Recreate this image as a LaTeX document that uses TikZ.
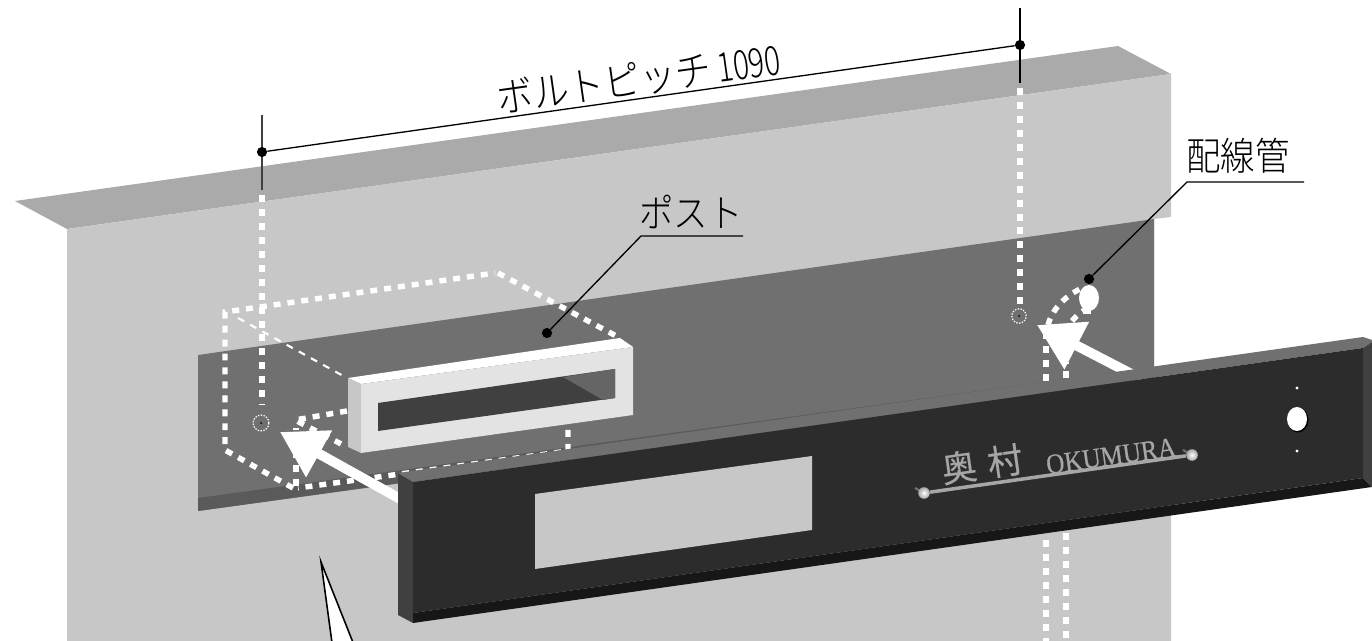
\documentclass[tikz,border=0pt]{standalone}
\usepackage{fontspec}
\setmainfont[FakeStretch=0.89]{Noto Sans CJK JP Light}
\newfontfamily\digitfont[FakeStretch=0.74]{Noto Sans CJK JP Light}
\newfontfamily\platefont[FakeBold=0.4]{Noto Sans CJK JP}
\newfontfamily\romanfont[FakeBold=0.5,FakeStretch=0.9]{Liberation Serif}
\usetikzlibrary{arrows.meta,shapes.geometric}

\definecolor{roofgray}{HTML}{AAAAAA}
\definecolor{wallgray}{HTML}{C7C7C7}
\definecolor{recessgray}{HTML}{707070}
\definecolor{recessband}{HTML}{5A5A5A}
\definecolor{platefront}{HTML}{2C2C2C}
\definecolor{plateband}{HTML}{171717}
\definecolor{plateside}{HTML}{404040}
\definecolor{nameplate}{HTML}{A6A6A6}

\tikzset{
  dotline/.style={white, line width=3.1pt, dash pattern=on 3.97pt off 3.97pt},
  thinline/.style={white, line width=1.2pt, dash pattern=on 4pt off 3.9pt},
  moveline/.style={white, line width=5.6pt, -{Triangle[length=25.5pt, width=29pt]}},
  leader/.style={black, line width=0.75pt},
  leaderdot/.style={circle, fill=black, inner sep=0pt, minimum size=5.8pt},
  boltmark/.style={circle, draw=white, line width=0.7pt, dash pattern=on 0.8pt off 0.8pt, inner sep=0pt, minimum size=8.2pt},
  calllabel/.style={font=\fontsize{22pt}{22pt}\selectfont, inner sep=0pt},
  knob/.style={circle, inner sep=0pt, minimum size=6.6pt, inner color=white, outer color=nameplate},
}

\begin{document}
\begin{tikzpicture}[x=0.02cm, y=-0.02cm]
      \useasboundingbox (0,0) rectangle (1372,641);
      \fill[white] (0,0) rectangle (1372,641);
      \fill[roofgray] (15,201) -- (1118,46) -- (1171,74) -- (67,229) -- cycle;
      \fill[wallgray] (67,229) -- (1171,74) -- (1171,217) -- (1154,219) -- (1154,420) -- (1171,420) -- (1171,641) -- (67,641) -- cycle;
      \fill[recessgray] (198,355) -- (1154,219) -- (1154,380) -- (198,511) -- cycle;
      \fill[recessband] (198,498) -- (1154,367) -- (1154,378) -- (198,511) -- cycle;

      \draw[dotline] (262,195) -- (262,405);
      \draw[dotline] (1020,88) -- (1020,305);
      \draw[dotline] (1046,381) -- (1046,332);
      \draw[dotline] (1066,378) -- (1066,362);
      \draw[dotline] (1046,540) -- (1046,641);
      \draw[dotline] (1066,533) -- (1066,641);
      \draw[dotline] (1048,325) .. controls (1052,310) and (1064,297) .. (1080,289);
      \draw[dotline] (1072,321) .. controls (1076,316) and (1080,313) .. (1086,309);
      \draw[dotline] (568,430) -- (568,451) -- (298,488);
      \draw[dotline] (293,488) -- (225,450) -- (225,312) -- (495,273);
      \draw[dotline] (498,273) -- (620,338);
      \draw[dotline] (296,486) -- (296,428);
      \draw[dotline] (347,411) -- (295,420) -- (347,447);
      \draw[thinline] (238,318) -- (347,378);

      \fill[white] (348,378) -- (620,338) -- (633,347) -- (361,384) -- cycle;
      \fill[wallgray] (348,378) -- (361,384) -- (361,453) -- (348,447) -- cycle;
      \fill[white!89!black] (361,384) -- (633,347) -- (633,415) -- (361,453) -- cycle;
      \fill[plateside] (378,403) -- (615,369) -- (615,398) -- (378,431) -- cycle;
      \fill[recessgray!90!black] (563,377) -- (615,369) -- (615,398) -- (603,400) -- cycle;

      \node[boltmark, minimum size=9pt] (boltL) at (261,423) {};
      \node[boltmark] (boltR) at (1019,316) {};
      \fill[black] (boltL) circle [radius=1];
      \fill[black] (boltR) circle [radius=1];

      \fill[white] (1089,298) ellipse [x radius=10, y radius=13];
      \fill[white] (1083,308) rectangle (1091,314);

      \coordinate (moveLs) at (420,510);
      \coordinate (moveLe) at (280,432);
      \coordinate (moveRs) at (1145,381);
      \coordinate (moveRe) at (1037,325);
      \draw[moveline] (moveLs) -- (moveLe);
      \draw[moveline] (moveRs) -- (moveRe);

      \fill[plateside] (398,473) -- (413,482) -- (413,623) -- (398,615) -- cycle;
      \fill[recessgray] (398,473) -- (1363,337) -- (1372,340) -- (1372,342) -- (1363,348) -- (413,482) -- cycle;
      \fill[platefront] (413,482) -- (1363,348) -- (1363,478) -- (413,613) -- cycle;
      \fill[plateband] (413,613) -- (1363,478) -- (1372,487) -- (413,623) -- cycle;
      \fill[plateside] (1363,348) -- (1372,342) -- (1372,487) -- (1363,478) -- cycle;
      \fill[wallgray] (535,494) -- (812,456) -- (812,530) -- (535,569) -- cycle;

      \fill[black] (1298,420) ellipse [x radius=10.5, y radius=12.5];
      \fill[white] (1297,419) ellipse [x radius=10, y radius=12];
      \fill[white] (1297,388) circle [radius=1.6];
      \fill[white] (1297,451) circle [radius=1.6];

      \draw[recessgray, line width=1.2pt] (915,488) -- (922,492);
      \draw[recessgray, line width=1.2pt] (1183,450) -- (1190,454);
      \node[knob] (knobL) at (924,493) {};
      \node[knob] (knobR) at (1192,455) {};
      \draw[nameplate, line width=2pt] (knobL) -- (knobR);
      \node[rotate=8, nameplate, inner sep=0pt, font=\platefont\fontsize{20pt}{20pt}\selectfont] (nameKanji) at (982,464) {奥\hspace{0.32em}村};
      \node[rotate=8, nameplate, inner sep=0pt, font=\romanfont\fontsize{16pt}{16pt}\selectfont] (nameRoman) at (1111,456) {OKUMURA};

      \node[leaderdot] (dimL) at (262,152) {};
      \node[leaderdot] (dimR) at (1020,45) {};
      \draw[leader] (dimL) -- (dimR);
      \draw[leader, line width=0.9pt, plateside] (262,115) -- (dimL);
      \draw[leader, line width=0.9pt, plateside] (dimL) -- (262,190);
      \draw[leader] (1020,8) -- (dimR);
      \draw[leader] (dimR) -- (1020,83);
      \node[calllabel, rotate=8, font=\fontsize{23pt}{23pt}\selectfont] (dimlabel) at (639,79) {ボルトピッチ\hspace{0.15em}{\digitfont 1090}};

      \node[leaderdot] (postdot) at (547,333) {};
      \coordinate (postbend) at (641,236);
      \coordinate (postend) at (743,236);
      \draw[leader] (postdot) -- (postbend) -- (postend);
      \node[calllabel] (postlabel) at (691,212) {ポスト};

      \node[leaderdot] (pipedot) at (1089,279) {};
      \coordinate (pipebend) at (1187,182);
      \coordinate (pipeend) at (1304,182);
      \draw[leader] (pipedot) -- (pipebend) -- (pipeend);
      \node[calllabel] (pipelabel) at (1238,156) {配線管};

      \coordinate (balloontip) at (321,562);
      \filldraw[fill=white, draw=black, line width=0.9pt] (333,650) -- (balloontip) -- (356,650);
    \end{tikzpicture}
\end{document}
